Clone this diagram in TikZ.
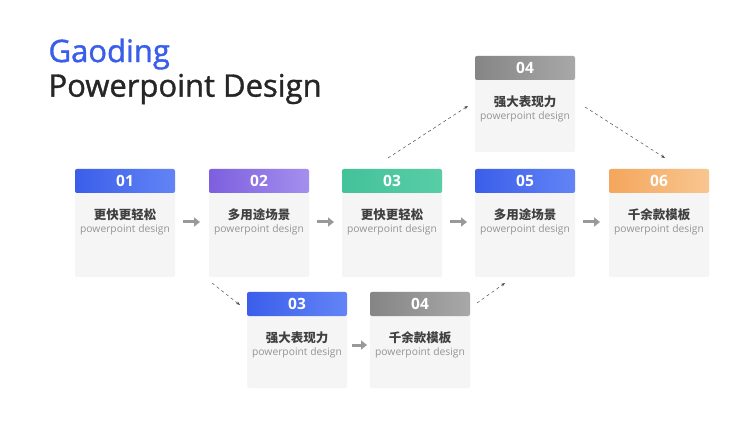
\documentclass[tikz,border=0pt]{standalone}
\usepackage{fontspec}
\setmainfont{Open Sans}
\newfontfamily\ttlfont[FakeBold=1.2]{Open Sans}
\newfontfamily\cjk{Noto Sans CJK SC}
\usetikzlibrary{arrows.meta,shadows}
\definecolor{cblue}{HTML}{3A5EEA}
\definecolor{cblueb}{HTML}{6384F6}
\definecolor{cpur}{HTML}{7D5FDF}
\definecolor{cpurb}{HTML}{A48FEE}
\definecolor{cgreen}{HTML}{44C29A}
\definecolor{cgreenb}{HTML}{58CDA6}
\definecolor{corg}{HTML}{F4A65C}
\definecolor{corgb}{HTML}{F8C690}
\definecolor{cgray}{HTML}{858585}
\definecolor{cgrayb}{HTML}{A8A8A8}
\tikzset{
  body/.style={fill=black!4, rounded corners=2pt, draw=none},
  flow/.style={draw=black!40, line width=3pt, -{Triangle[length=6pt,width=9pt]}},
  dsh/.style={draw=black!70, dashed, line width=0.5pt, -{Stealth[length=4pt]}},
  ttl/.style={font=\cjk\bfseries\fontsize{12.5}{14}\selectfont, text=black!75},
  sub/.style={font=\fontsize{10.3}{12}\selectfont, text=black!42},
  num/.style={font=\bfseries\fontsize{15.5}{17}\selectfont, text=white}
}
\newcommand{\card}[8]{%
  \fill[body] (#2-50,#3) rectangle (#2+50,#3+#8);
  \shade[left color=#4, right color=#5, rounded corners=2pt] (#2-50,#3) rectangle (#2+50,#3+24);
  \node[num] (#1n) at (#2,#3+12) {#6};
  \node[ttl] (#1t) at (#2,#3+46) {#7};
  \node[sub] (#1s) at (#2,#3+61) {powerpoint design};
  \coordinate (#1) at (#2,#3+53);
}
\begin{document}
\begin{tikzpicture}[x=1pt,y=-1pt]
\fill[white] (0,0) rectangle (750,422);
\useasboundingbox (0,0) rectangle (750,422);
\node[anchor=west, font=\ttlfont\fontsize{31}{34}\selectfont, text=cblue] (g) at (45,54) {Gaoding};
\node[anchor=west, font=\ttlfont\fontsize{31}{34}\selectfont, text=black!85] (p) at (45,89) {Powerpoint Design};
\card{a}{125}{169}{cblue}{cblueb}{01}{更快更轻松}{108}
\card{b}{259}{169}{cpur}{cpurb}{02}{多用途场景}{108}
\card{c}{392}{169}{cgreen}{cgreenb}{03}{更快更轻松}{108}
\card{d}{525}{169}{cblue}{cblueb}{05}{多用途场景}{108}
\card{e}{659}{169}{corg}{corgb}{06}{千余款模板}{108}
\card{t}{525}{56}{cgray}{cgrayb}{04}{强大表现力}{96}
\card{u}{297}{292}{cblue}{cblueb}{03}{强大表现力}{96}
\card{v}{420}{292}{cgray}{cgrayb}{04}{千余款模板}{96}
\draw[flow] ([xshift=58pt]a) -- ([xshift=-59pt]b);
\draw[flow] ([xshift=58pt]b) -- ([xshift=-58pt]c);
\draw[flow] ([xshift=58pt]c) -- ([xshift=-58pt]d);
\draw[flow] ([xshift=58pt]d) -- ([xshift=-59pt]e);
\draw[flow] ([xshift=55pt]u) -- ([xshift=-53pt]v);
\draw[dsh] ([shift={(-4,-64)}]c) -- ([shift={(-57,-3)}]t);
\draw[dsh] ([shift={(60,-2)}]t) -- ([shift={(6,-64)}]e);
\draw[dsh] ([shift={(-47,61)}]b) -- ([shift={(-57,-40)}]u);
\draw[dsh] ([shift={(57,-42)}]v) -- ([shift={(-20,61)}]d);
\end{tikzpicture}
\end{document}
